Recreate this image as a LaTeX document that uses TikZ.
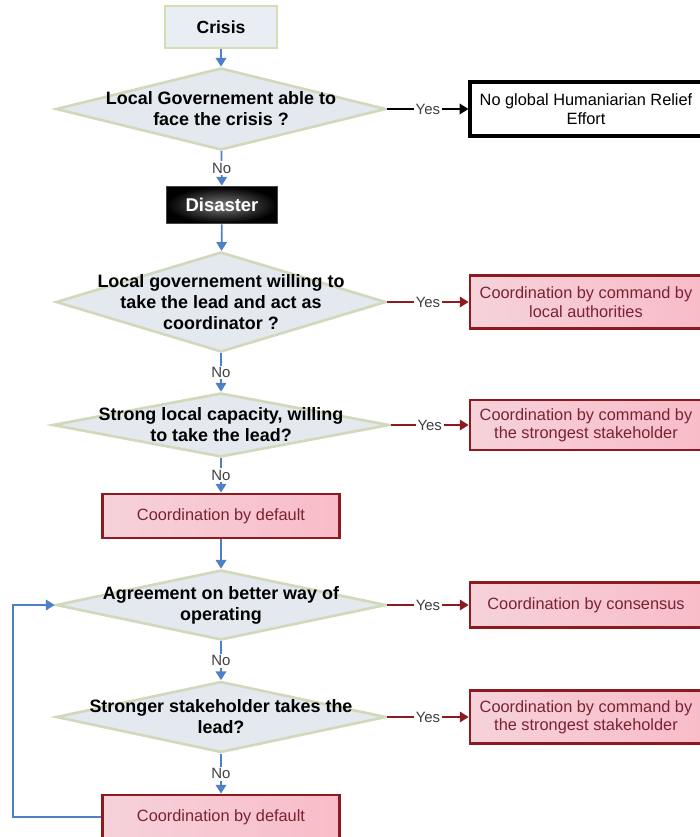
\documentclass[tikz,border=0pt]{standalone}
\usepackage{fontspec}
\setmainfont{Liberation Sans}
\usetikzlibrary{shapes.geometric,arrows.meta,positioning}
\definecolor{flowblue}{HTML}{4F7FC6}
\definecolor{darkred}{HTML}{8C1A1E}
\definecolor{redtext}{HTML}{7A2230}
\definecolor{pinkL}{HTML}{F6D2DB}
\definecolor{pinkR}{HTML}{F8BCC8}
\definecolor{decfill}{HTML}{E3E9EF}
\definecolor{decline}{HTML}{D2D8BC}
\definecolor{startfill}{HTML}{E8EEF4}
\definecolor{startline}{HTML}{D6DDB4}
\tikzstyle{start} = [draw=startline, fill=startfill, line width=1.5pt, rectangle, font=\bfseries\fontsize{10}{12}\selectfont]
\tikzstyle{disasterbox} = [draw=gray!55!black, line width=1pt, rectangle, inner color=gray!95!black, outer color=black, text=white, font=\bfseries\fontsize{10.5}{12}\selectfont]
\tikzstyle{decision} = [draw=decline, fill=decfill, line width=1.5pt, diamond, inner sep=0pt]
\tikzstyle{decisiontext} = [align=center, inner sep=0pt, font=\bfseries\fontsize{10.2}{12}\selectfont]
\tikzstyle{outcome} = [draw=darkred, line width=1.6pt, rectangle, left color=pinkL, right color=pinkR, text=redtext, align=center, minimum width=4.64cm, font=\fontsize{9.3}{10.5}\selectfont]
\tikzstyle{ending} = [draw=black, line width=1.8pt, fill=white, rectangle, align=center, minimum width=4.64cm, font=\fontsize{9.3}{10.5}\selectfont]
\tikzstyle{flow} = [draw=flowblue, line width=1pt, ->]
\tikzstyle{yesline} = [draw=darkred, line width=1pt, ->]
\tikzstyle{answer} = [fill=white, inner sep=1pt, anchor=center, text=black!75, font=\fontsize{8.5}{10}\selectfont]

\begin{document}
\begin{tikzpicture}[node distance=2cm, >={Triangle[length=5pt,width=6pt]}]

\useasboundingbox (0,0) rectangle (14,-16.74);

\node [start, minimum width=2.24cm, minimum height=0.84cm] (crisis) at (4.42,-0.54) {Crisis};
\node [decision, below of=crisis, node distance=1.64cm, minimum width=6.6cm, minimum height=1.64cm] (able) {};
\node [decisiontext] (abletxt) at (able) {Local Governement able to\\face the crisis ?};
\node [disasterbox, below of=able, node distance=1.92cm, xshift=0.02cm, minimum width=2.22cm, minimum height=0.74cm] (disaster) {Disaster};
\node [decision, below of=able, node distance=3.86cm, minimum width=6.6cm, minimum height=2cm] (willing) {};
\node [decisiontext] (willingtxt) at (willing) {Local governement willing to\\take the lead and act as\\coordinator ?};
\node [decision, below of=willing, node distance=2.46cm, minimum width=6.74cm, minimum height=1.28cm] (capacity) {};
\node [decisiontext] (capacitytxt) at (capacity) {Strong local capacity, willing\\to take the lead?};
\node [outcome, below of=capacity, node distance=1.82cm, minimum width=4.74cm, minimum height=0.88cm] (default1) {Coordination by default};
\node [decision, below of=default1, node distance=1.78cm, minimum width=6.6cm, minimum height=1.4cm] (agree) {};
\node [decisiontext] (agreetxt) at (agree) {Agreement on better way of\\operating};
\node [decision, below of=agree, node distance=2.24cm, minimum width=6.6cm, minimum height=1.42cm] (stronger) {};
\node [decisiontext] (strongertxt) at (stronger) {Stronger stakeholder takes the\\lead?};
\node [outcome, below of=stronger, node distance=2cm, minimum width=4.74cm, minimum height=0.88cm] (default2) {Coordination by default};

\node [ending, right of=able, node distance=7.3cm, minimum height=1.08cm] (noeffort) {No global Humaniarian Relief\\Effort};
\node [outcome, right of=willing, node distance=7.3cm, minimum height=1.06cm] (local) {Coordination by command by\\local authorities};
\node [outcome, right of=capacity, node distance=7.3cm, minimum height=1cm] (strongest1) {Coordination by command by\\the strongest stakeholder};
\node [outcome, right of=agree, node distance=7.3cm, minimum height=0.9cm] (consensus) {Coordination by consensus};
\node [outcome, right of=stronger, node distance=7.3cm, minimum height=1.06cm] (strongest2) {Coordination by command by\\the strongest stakeholder};

\coordinate (loopx) at (0.26,0);

% main column
\draw [flow] (crisis) -- (able);
\draw [flow] (able) -- node [answer] {No} (disaster);
\draw [flow] (disaster) -- (willing);
\draw [flow] (willing) -- node [answer] {No} (capacity);
\draw [flow] (capacity) -- node [answer] {No} (default1);
\draw [flow] (default1) -- (agree);
\draw [flow] (agree) -- node [answer] {No} (stronger);
\draw [flow] (stronger) -- node [answer] {No} (default2);
\draw [flow] (default2.west) -- (default2.west -| loopx) |- (agree.west);

% yes branches
\draw [->, line width=1pt] (able.east) -- node [answer] {Yes} (noeffort);
\draw [yesline] (willing.east) -- node [answer] {Yes} (local);
\draw [yesline] (capacity.east) -- node [answer] {Yes} (strongest1);
\draw [yesline] (agree.east) -- node [answer] {Yes} (consensus);
\draw [yesline] (stronger.east) -- node [answer] {Yes} (strongest2);

\end{tikzpicture}
\end{document}
